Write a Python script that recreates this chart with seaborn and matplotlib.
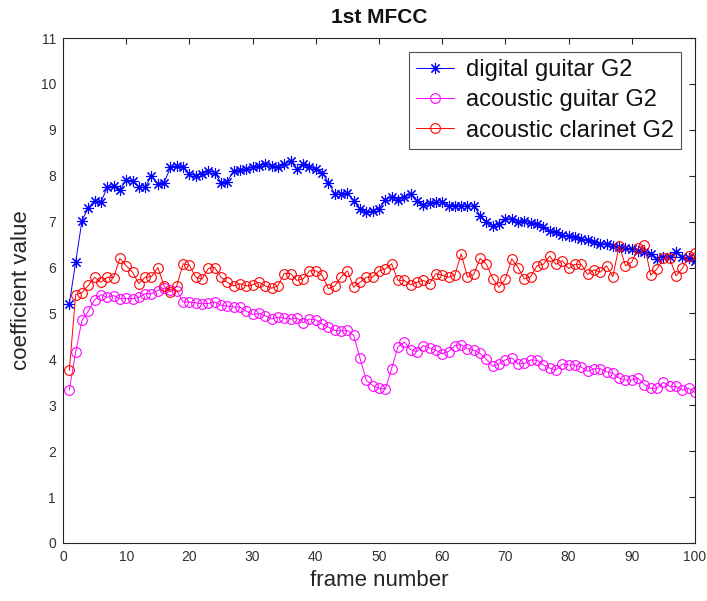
import matplotlib
matplotlib.use("Agg")
import matplotlib.pyplot as plt
import pandas as pd
import seaborn as sns

frames = list(range(1, 101))

digital_guitar = [
    5.21, 6.12, 7.02, 7.30, 7.46, 7.42, 7.75, 7.78, 7.68, 7.91,
    7.88, 7.75, 7.75, 8.00, 7.82, 7.85, 8.18, 8.22, 8.18, 8.04,
    8.00, 8.04, 8.11, 8.07, 7.85, 7.87, 8.11, 8.12, 8.15, 8.18,
    8.22, 8.25, 8.22, 8.18, 8.25, 8.32, 8.15, 8.25, 8.18, 8.15,
    8.07, 7.85, 7.60, 7.60, 7.62, 7.46, 7.28, 7.20, 7.24, 7.28,
    7.48, 7.53, 7.48, 7.53, 7.60, 7.46, 7.37, 7.40, 7.42, 7.42,
    7.35, 7.35, 7.35, 7.33, 7.35, 7.13, 7.00, 6.91, 6.95, 7.06,
    7.06, 7.00, 7.02, 6.97, 6.95, 6.88, 6.80, 6.77, 6.70, 6.68,
    6.66, 6.62, 6.59, 6.55, 6.52, 6.52, 6.48, 6.45, 6.43, 6.41,
    6.37, 6.33, 6.30, 6.19, 6.24, 6.24, 6.33, 6.24, 6.20, 6.15,
]

acoustic_guitar = [
    3.33, 4.16, 4.85, 5.05, 5.30, 5.41, 5.35, 5.39, 5.32, 5.33,
    5.32, 5.35, 5.43, 5.43, 5.50, 5.55, 5.52, 5.50, 5.25, 5.25,
    5.23, 5.21, 5.22, 5.25, 5.18, 5.16, 5.14, 5.14, 5.05, 4.98,
    5.00, 4.95, 4.88, 4.92, 4.90, 4.88, 4.90, 4.80, 4.88, 4.86,
    4.77, 4.70, 4.63, 4.62, 4.63, 4.52, 4.02, 3.54, 3.43, 3.37,
    3.35, 3.80, 4.27, 4.38, 4.21, 4.17, 4.30, 4.25, 4.20, 4.12,
    4.17, 4.30, 4.32, 4.23, 4.20, 4.13, 4.00, 3.85, 3.90, 3.99,
    4.03, 3.90, 3.91, 3.99, 3.98, 3.88, 3.81, 3.77, 3.90, 3.88,
    3.88, 3.83, 3.74, 3.79, 3.80, 3.73, 3.70, 3.59, 3.55, 3.55,
    3.59, 3.45, 3.37, 3.37, 3.50, 3.41, 3.41, 3.33, 3.37, 3.28,
]

acoustic_clarinet = [
    3.76, 5.41, 5.45, 5.61, 5.79, 5.68, 5.79, 5.78, 6.20, 6.04,
    5.90, 5.65, 5.79, 5.80, 6.00, 5.60, 5.47, 5.60, 6.08, 6.05,
    5.79, 5.75, 5.98, 6.00, 5.79, 5.68, 5.60, 5.65, 5.60, 5.62,
    5.68, 5.60, 5.55, 5.60, 5.87, 5.87, 5.72, 5.75, 5.93, 5.93,
    5.83, 5.54, 5.60, 5.79, 5.93, 5.57, 5.68, 5.79, 5.79, 5.93,
    5.97, 6.08, 5.72, 5.72, 5.62, 5.68, 5.72, 5.65, 5.87, 5.83,
    5.79, 5.83, 6.30, 5.79, 5.85, 6.20, 6.07, 5.76, 5.57, 5.75,
    6.19, 6.00, 5.75, 5.80, 6.04, 6.07, 6.25, 6.07, 6.15, 5.98,
    6.07, 6.07, 5.85, 5.95, 5.90, 6.04, 5.80, 6.48, 6.04, 6.12,
    6.42, 6.49, 5.83, 5.97, 6.20, 6.20, 5.82, 5.98, 6.25, 6.32,
]

series_names = ["digital guitar G2", "acoustic guitar G2", "acoustic clarinet G2"]
x_ticks = list(range(0, 101, 10))
y_ticks = list(range(0, 12))

sns.set_theme(style="white")
plt.rcParams['font.family'] = ['Liberation Sans', 'DejaVu Sans']

fig = plt.figure(figsize=(7.07, 6.01), dpi=100)
ax = fig.add_axes([63 / 707, 58 / 601, 632 / 707, 505 / 601])

styles = [("#0000ff", (8, 2, 0), 8), ("#ff00ff", "o", 7), ("#ff0000", "o", 7)]
for name, vals, (c, m, ms) in zip(series_names,
                                  [digital_guitar, acoustic_guitar, acoustic_clarinet],
                                  styles):
    df = pd.DataFrame({"frame": frames, "value": vals})
    sns.lineplot(data=df, x="frame", y="value", ax=ax, color=c, marker=m,
                 markersize=ms, markerfacecolor="none", markeredgecolor=c,
                 markeredgewidth=0.8, linewidth=0.7, label=name)

ax.set_xlim(0, 100)
ax.set_ylim(0, 11)
ax.set_xticks(x_ticks)
ax.set_yticks(y_ticks)
ax.tick_params(direction="in", top=True, right=True, length=4, width=0.8,
               labelsize=10, labelcolor="#333333", color="#262626", pad=5)
for s in ax.spines.values():
    s.set_color("#262626")
    s.set_linewidth(0.8)

ax.set_title("1st MFCC", fontsize=15, fontweight="bold", pad=11, color="#111111")
ax.set_xlabel("frame number", fontsize=16, color="#262626", labelpad=4)
ax.set_ylabel("coefficient value", fontsize=16, color="#262626", labelpad=6)

leg = ax.legend(loc="upper right", bbox_to_anchor=(0.978, 0.972), borderaxespad=0,
                fontsize=17, frameon=True, fancybox=False, edgecolor="#262626",
                handlelength=1.6, handletextpad=0.5, borderpad=0.3,
                labelspacing=0.35)
leg.get_frame().set_linewidth(0.8)
for t in leg.get_texts():
    t.set_color("#111111")

fig.savefig("out.png", dpi=100)
